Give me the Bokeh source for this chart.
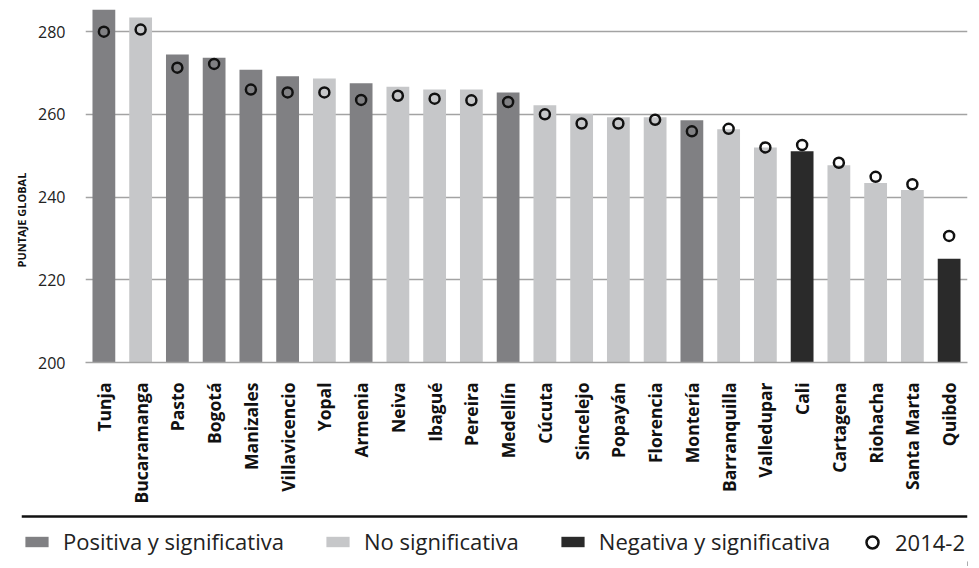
import math
from bokeh.plotting import figure
from bokeh.models import (Range1d, FactorRange, ColumnDataSource, Span, Legend,
                          LegendItem, FixedTicker, Title)
from bokeh.layouts import column
from bokeh.embed import file_html
from bokeh.resources import INLINE

cities = ["Tunja", "Bucaramanga", "Pasto", "Bogotá", "Manizales", "Villavicencio",
          "Yopal", "Armenia", "Neiva", "Ibagué", "Pereira", "Medellín", "Cúcuta",
          "Sincelejo", "Popayán", "Florencia", "Montería", "Barranquilla",
          "Valledupar", "Cali", "Cartagena", "Riohacha", "Santa Marta", "Quibdo"]
score_current = [285.3, 283.4, 274.5, 273.7, 270.8, 269.2, 268.7, 267.5, 266.7, 266.0,
                 266.0, 265.3, 262.2, 260.1, 259.3, 259.3, 258.6, 256.4, 252.0, 251.1,
                 247.7, 243.4, 241.7, 225.1]
score_2014_2 = [280.0, 280.5, 271.3, 272.2, 266.0, 265.3, 265.3, 263.5, 264.5, 263.8,
                263.4, 263.0, 260.0, 257.8, 257.8, 258.7, 255.9, 256.5, 252.0, 252.6,
                248.3, 244.9, 243.1, 230.6]
change = ["pos", "nosig", "pos", "pos", "pos", "pos", "nosig", "pos", "nosig", "nosig",
          "nosig", "pos", "nosig", "nosig", "nosig", "nosig", "pos", "nosig", "nosig",
          "neg", "nosig", "nosig", "nosig", "neg"]
legend_labels = ["Positiva y significativa", "No significativa",
                 "Negativa y significativa", "2014-2"]
y_ticks = [200, 220, 240, 260, 280]
y_title = "PUNTAJE GLOBAL"

palette = {"pos": "#808083", "nosig": "#c6c7c9", "neg": "#2a2a2a"}

src = ColumnDataSource(dict(city=cities, cur=score_current, prev=score_2014_2,
                            color=[palette[c] for c in change]))

p = figure(x_range=FactorRange(*cities), y_range=Range1d(200, 285.6),
           width=979, height=506, output_backend="svg", toolbar_location=None,
           min_border_left=85, min_border_right=12, min_border_top=8,
           min_border_bottom=143)
p.frame_align = False
p.outline_line_color = None
p.background_fill_color = "white"

p.vbar(x="city", top="cur", bottom=200, width=0.62, fill_color="color",
       line_color=None, source=src)
p.scatter(x="city", y="prev", marker="circle", size=10, fill_color=None,
          line_color="#111111", line_width=2.5, source=src)

p.xgrid.grid_line_color = None
p.ygrid.ticker = FixedTicker(ticks=y_ticks)
p.ygrid.grid_line_color = "#a3a3a3"
p.ygrid.grid_line_width = 1.6

p.yaxis.ticker = FixedTicker(ticks=y_ticks)
p.yaxis.axis_line_color = None
p.yaxis.major_tick_line_color = None
p.yaxis.minor_tick_line_color = None
p.yaxis.major_tick_out = 0
p.yaxis.major_label_standoff = 20
p.yaxis.major_label_text_font = "Open Sans"
p.yaxis.major_label_text_font_size = "16px"
p.yaxis.major_label_text_color = "#222222"

p.add_layout(Title(text=y_title, align="left", offset=95, standoff=14,
                   text_font="Open Sans", text_font_style="bold",
                   text_font_size="11px", text_color="#111111"), "left")

p.xaxis.axis_line_color = "#a3a3a3"
p.xaxis.axis_line_width = 1.6
p.xaxis.major_tick_line_color = None
p.xaxis.major_tick_out = 0
p.xaxis.major_label_orientation = math.pi / 2
p.xaxis.major_label_standoff = 20
p.xaxis.major_label_text_font = "Open Sans"
p.xaxis.major_label_text_font_style = "bold"
p.xaxis.major_label_text_font_size = "17.5px"
p.xaxis.major_label_text_color = "#111111"

# legend strip
lg = figure(x_range=Range1d(0, 1), y_range=Range1d(0, 60), width=979, height=60,
            output_backend="svg", toolbar_location=None,
            min_border_left=21, min_border_right=12, min_border_top=0, min_border_bottom=0)
lg.frame_align = False
lg.outline_line_color = None
lg.axis.visible = False
lg.grid.visible = False
lg.add_layout(Span(location=50, dimension="width", line_color="#111111", line_width=2.5))

# legend proxies placed outside the visible range
r_pos = lg.vbar(x=[5], top=[5], width=0.5, fill_color=palette["pos"], line_color=None)
r_ns = lg.vbar(x=[5], top=[5], width=0.5, fill_color=palette["nosig"], line_color=None)
r_neg = lg.vbar(x=[5], top=[5], width=0.5, fill_color=palette["neg"], line_color=None)
r_c = lg.scatter(x=[5], y=[5], marker="circle", size=10, fill_color=None,
                 line_color="#111111", line_width=2.5)

common = dict(orientation="horizontal", margin=0, padding=0,
              label_text_font="Open Sans", label_text_font_size="22px",
              label_text_color="#222222", border_line_color=None,
              background_fill_alpha=0)
legend = Legend(items=[LegendItem(label=legend_labels[0], renderers=[r_pos]),
                       LegendItem(label=legend_labels[1], renderers=[r_ns]),
                       LegendItem(label=legend_labels[2], renderers=[r_neg])],
                location=(1, 10), spacing=39, glyph_width=29, glyph_height=13,
                label_standoff=12, **common)
legend2 = Legend(items=[LegendItem(label=legend_labels[3], renderers=[r_c])],
                 location=(836, 9), glyph_width=30, glyph_height=30,
                 label_standoff=8, **common)
lg.add_layout(legend)
lg.add_layout(legend2)

layout = column(p, lg, spacing=0)
open("out.html", "w").write(file_html(layout, INLINE))
